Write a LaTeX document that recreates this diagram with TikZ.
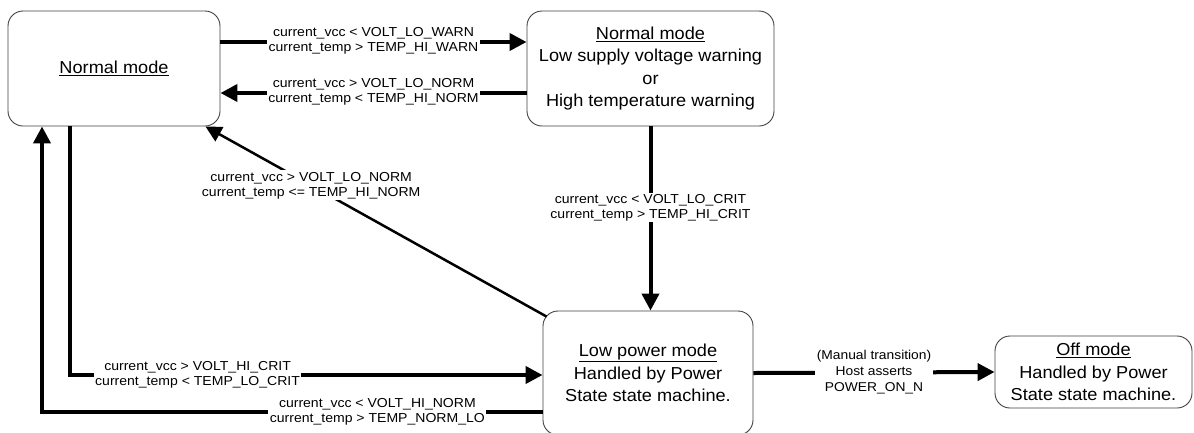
\documentclass[tikz,border=0pt]{standalone}
\usepackage{fontspec}
\setmainfont{Liberation Sans}
\newfontfamily\lblfont{Liberation Sans}[FakeStretch=1.08]
\newfontfamily\boxfont{Liberation Sans}[FakeStretch=1.05]
\usetikzlibrary{arrows.meta}
\begin{document}
\begin{tikzpicture}[x=1pt,y=-1pt,
  state/.style={draw=black!75, line width=0.9pt, rounded corners=15pt, align=center,
    font=\boxfont\fontsize{17.3}{22.5}\selectfont, inner sep=0pt},
  lbl/.style={fill=white, align=center, font=\lblfont\fontsize{13}{15}\selectfont, inner sep=1.5pt},
  smalllbl/.style={fill=white, align=center, font=\lblfont\fontsize{12.8}{16}\selectfont, inner sep=2pt},
  tarrow/.style={line width=4pt, -{Triangle[length=17pt,width=17pt]}},
  thinarrow/.style={line width=2.5pt, -{Triangle[length=16pt,width=16pt]}}
]
\useasboundingbox (0,0) rectangle (1194,432);

\node[state, minimum width=212pt, minimum height=115pt] (n1) at (114,68.5) {\underline{Normal mode}};
\node[state, minimum width=247pt, minimum height=115pt] (n2) at (650.5,68.5)
  {\underline{Normal mode}\\Low supply voltage warning\\or\\High temperature warning};
\node[state, minimum width=210pt, minimum height=124pt] (lp) at (648,373)
  {\underline{Low power mode}\\Handled by Power\\State state machine.};
\node[state, minimum width=197pt, minimum height=72pt] (off) at (1093.5,372)
  {\underline{Off mode}\\Handled by Power\\State state machine.};

\draw[tarrow] ([yshift=26.5pt]n1.east) -- ([yshift=26.5pt]n2.west)
  node[lbl, midway, yshift=1pt] {current\_vcc < VOLT\_LO\_WARN\\current\_temp > TEMP\_HI\_WARN};
\draw[tarrow] ([yshift=-24.5pt]n2.west) -- ([yshift=-24.5pt]n1.east)
  node[lbl, midway, yshift=1pt] {current\_vcc > VOLT\_LO\_NORM\\current\_temp < TEMP\_HI\_NORM};
\draw[tarrow] (n2.south) -- (n2.south |- lp.north)
  node[lbl, pos=0.44] {current\_vcc < VOLT\_LO\_CRIT\\current\_temp > TEMP\_HI\_CRIT};
\draw[thinarrow] ([shift={(4pt,-6pt)}]lp.north west) -- ([xshift=-15pt]n1.south east)
  node[lbl, pos=0.69] {current\_vcc > VOLT\_LO\_NORM\\current\_temp <= TEMP\_HI\_NORM};
\draw[tarrow] ([xshift=-44pt]n1.south) |- ([yshift=-2pt]lp.west)
  node[lbl, pos=0.635] {current\_vcc > VOLT\_HI\_CRIT\\current\_temp < TEMP\_LO\_CRIT};
\draw[tarrow] ([yshift=-39pt]lp.west) -| ([xshift=-72pt]n1.south)
  node[lbl, pos=0.165] {current\_vcc < VOLT\_HI\_NORM\\current\_temp > TEMP\_NORM\_LO};
\draw[tarrow] (lp.east) -- (off.west)
  node[smalllbl, midway] {(Manual transition)\\Host asserts\\POWER\_ON\_N};
\end{tikzpicture}
\end{document}
